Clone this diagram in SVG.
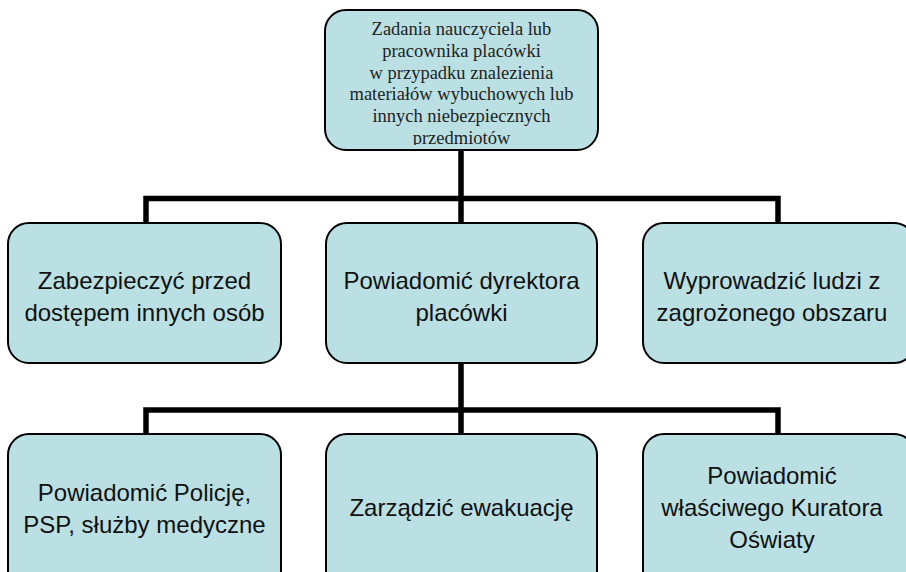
<svg xmlns="http://www.w3.org/2000/svg" width="906" height="572" viewBox="0 0 906 572">
<defs>
<style>
.box{fill:#BAE0E3;stroke:#000;stroke-width:2}
.conn{fill:none;stroke:#000;stroke-width:5.5;stroke-linecap:butt;stroke-linejoin:miter}
.serif{font-family:"Liberation Serif","Times New Roman",serif;font-size:18.5px;fill:#222;text-anchor:middle}
.sans{font-family:"Liberation Sans",Arial,sans-serif;font-size:24px;fill:#111;text-anchor:middle}
</style>
<clipPath id="topclip"><rect x="326" y="11" width="271" height="134"/></clipPath>
</defs>
<rect width="906" height="572" fill="#fff"/>
<g id="connectors">
<path class="conn" d="M461 150 V223 M146 223 V198.5 H778 V223"/>
<path class="conn" d="M461 363 V434 M146 434 V410 H778 V434"/>
</g>
<g id="top">
<rect class="box" x="325" y="10" width="273" height="140" rx="21"/>
<g clip-path="url(#topclip)">
<text class="serif" x="461.5" y="35">Zadania nauczyciela lub</text>
<text class="serif" x="461.5" y="56.8">pracownika placówki</text>
<text class="serif" x="461.5" y="78.6">w przypadku znalezienia</text>
<text class="serif" x="461.5" y="100.4">materiałów wybuchowych lub</text>
<text class="serif" x="461.5" y="122.2">innych niebezpiecznych</text>
<text class="serif" x="461.5" y="144">przedmiotów</text>
</g>
</g>
<g id="n1">
<rect class="box" x="8" y="223" width="273" height="140" rx="21"/>
<text class="sans" x="144.5" y="289">Zabezpieczyć przed</text>
<text class="sans" x="144.5" y="321">dostępem innych osób</text>
</g>
<g id="n2">
<rect class="box" x="326" y="223" width="271" height="140" rx="21"/>
<text class="sans" x="461.5" y="289">Powiadomić dyrektora</text>
<text class="sans" x="461.5" y="321">placówki</text>
</g>
<g id="n3">
<rect class="box" x="643" y="223" width="272" height="140" rx="21"/>
<text class="sans" x="772" y="289">Wyprowadzić ludzi z</text>
<text class="sans" x="772" y="321">zagrożonego obszaru</text>
</g>
<g id="n4">
<rect class="box" x="8" y="434" width="273" height="160" rx="21"/>
<text class="sans" x="144.5" y="501">Powiadomić Policję,</text>
<text class="sans" x="144.5" y="533">PSP, służby medyczne</text>
</g>
<g id="n5">
<rect class="box" x="326" y="434" width="271" height="160" rx="21"/>
<text class="sans" x="461.5" y="516">Zarządzić ewakuację</text>
</g>
<g id="n6">
<rect class="box" x="643" y="434" width="272" height="160" rx="21"/>
<text class="sans" x="772" y="484">Powiadomić</text>
<text class="sans" x="772" y="516">właściwego Kuratora</text>
<text class="sans" x="772" y="548">Oświaty</text>
</g>
</svg>
